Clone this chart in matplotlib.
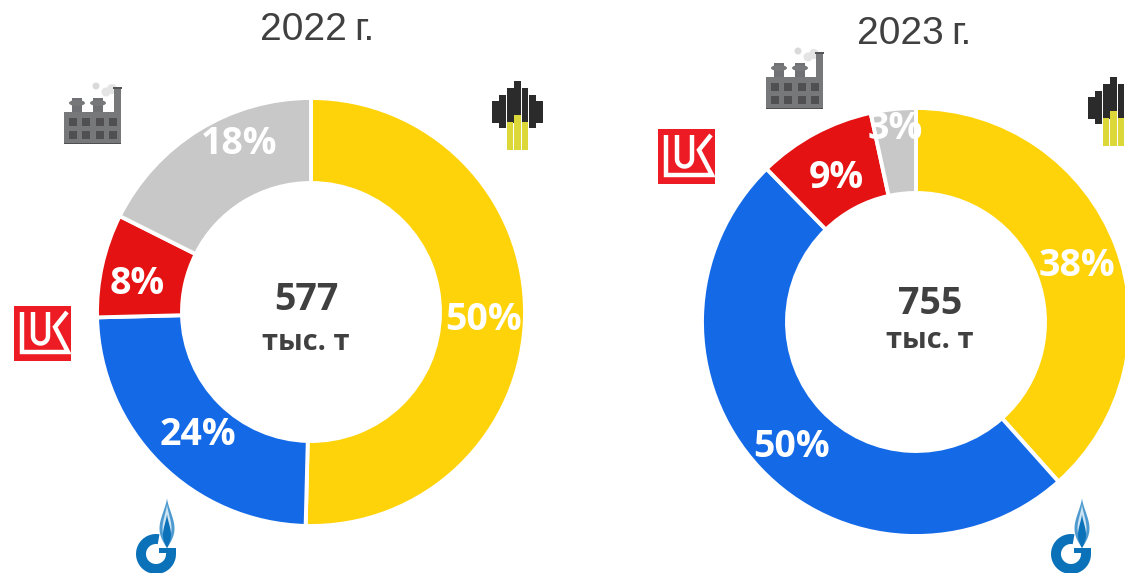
import matplotlib
matplotlib.use('Agg')
import matplotlib.pyplot as plt
from matplotlib.patches import Rectangle, Polygon, Circle, Wedge, Ellipse
import numpy as np

# shares read from the slice boundaries, labels as printed
shares_2022 = [50.4, 24.2, 7.8, 17.6]
shares_2023 = [38.4, 49.3, 8.9, 3.4]
labels_2022 = ['50%', '24%', '8%', '18%']
labels_2023 = ['38%', '50%', '9%', '3%']
colors = ['#FFD30A', '#1369E6', '#E41212', '#C8C8C8']

W, H = 1125, 573
fig = plt.figure(figsize=(W / 100, H / 100), dpi=100)
ax = fig.add_axes([0, 0, 1, 1])


def Y(py):
    return H - py


def donut(cx, cy, shares, labels, label_r, label_deg, total, mid, title, tx, ty):
    wedges, _ = ax.pie(shares, colors=colors, startangle=90, counterclock=False,
                       center=(cx, Y(cy)), radius=214,
                       wedgeprops=dict(width=85, edgecolor='white', linewidth=2.8))
    for w, lab, r, d in zip(wedges, labels, label_r, label_deg):
        a = np.deg2rad((w.theta1 + w.theta2) / 2 - d)
        ax.text(cx + r * np.cos(a), Y(cy + 3) + r * np.sin(a), lab, color='white', fontsize=27,
                fontweight='bold', family='Open Sans', ha='center', va='center')
    ax.text(mid[0], Y(mid[1]), total, color='#404040', fontsize=27, fontweight='bold',
            family='Open Sans', ha='center', va='center')
    ax.text(mid[0], Y(mid[2]), 'тыс. т', color='#404040', fontsize=21, fontweight='bold',
            family='Open Sans', ha='center', va='center')
    ax.text(tx, Y(ty + 3), title, color='#404040', fontsize=28, family='Liberation Sans',
            ha='left', va='center')
    ax.text(tx + 94, Y(ty + 3), 'г.', color='#404040', fontsize=28, family='Liberation Sans',
            ha='left', va='center')


def factory(x, y):
    # x, y = top left of the building
    ax.add_patch(Circle((x + 32, Y(y - 26)), 3.5, color='#DADADA', lw=0))
    ax.add_patch(Circle((x + 48, Y(y - 23)), 5, color='#E4E4E4', lw=0))
    ax.add_patch(Circle((x + 42, Y(y - 20)), 4.5, color='#E4E4E4', lw=0))
    ax.add_patch(Rectangle((x, Y(y + 32)), 57, 32, color='#77787A', lw=0))
    ax.add_patch(Rectangle((x, Y(y + 32)), 57, 1.5, color='#505050', lw=0))
    ax.add_patch(Rectangle((x + 50, Y(y)), 7, 23, color='#77787A', lw=0))
    ax.add_patch(Rectangle((x + 49, Y(y - 23)), 9, 2, color='#55565A', lw=0))
    for sx in (x + 13, x + 34):
        ax.add_patch(Rectangle((sx - 5, Y(y)), 10, 14, color='#707174', lw=0))
        ax.add_patch(Ellipse((sx, Y(y - 9)), 16, 6, color='#77787A', lw=0))
    for row in (6, 19):
        for col in (5, 18, 32, 45):
            ax.add_patch(Rectangle((x + col, Y(y + row + 8)), 7.5, 8, color='#505052', lw=0))


def lukoil(x, y, s=57):
    k = s / 57
    ax.add_patch(Rectangle((x, Y(y + 55 * k)), s, 55 * k, color='#ED1C24', lw=0))
    pts = [(8, 6), (8, 46), (54, 46), (41, 21), (53, 6)]
    ax.plot([x + a * k for a, b in pts], [Y(y + b * k) for a, b in pts], color='white', lw=3.2,
            solid_joinstyle='miter', solid_capstyle='butt')
    t = np.linspace(np.pi, 2 * np.pi, 20)
    ux = np.concatenate([[19], 26.5 + 7.5 * np.cos(t), [34]])
    uy = np.concatenate([[6], 30 - 7.5 * np.sin(t), [6]])
    ax.plot(x + ux * k, [Y(y + b * k) for b in uy], color='white', lw=3.2, solid_capstyle='butt')


def rosneft(x, y):
    # x = left of outer bar, y = top of centre bar
    tops = [20, 14, 7, 0, 7, 14, 20]
    bottoms = [42, 47, 42, 35, 42, 47, 42]
    for i, (t, b) in enumerate(zip(tops, bottoms)):
        ax.add_patch(Rectangle((x + i * 7.4, Y(y + b)), 6.8, b - t, color='#2B2B2B', lw=0))
    for i, t in zip((2, 3, 4), (41, 34, 41)):
        ax.add_patch(Rectangle((x + i * 7.4 + 0.2, Y(y + 69)), 6.4, 69 - t, color='#DDD83A', lw=0))


def flame(x, y, half, h, color):
    t = np.linspace(0, 1, 30)
    w = half * np.sin(np.pi * t ** 1.4)
    px = np.concatenate([x - w, (x + w)[::-1]])
    py = np.concatenate([y + h * t, (y + h * t)[::-1]])
    ax.add_patch(Polygon(np.column_stack([px, Y(py)]), color=color, lw=0))


def gazprom(x, y):
    # x = left of the G, y = top of the flame
    blue = '#0B72B9'
    flame(x + 30, y, 7.5, 50, '#4C9AD0')
    flame(x + 30, y + 6, 4.5, 40, '#CFE4F2')
    flame(x + 30, y + 16, 4, 34, blue)
    ax.add_patch(Wedge((x + 19, Y(y + 56)), 20, 80, 365, width=10, color=blue, lw=0))
    ax.add_patch(Rectangle((x + 22, Y(y + 55)), 17, 5, color=blue, lw=0))


donut(311, 312, shares_2022, labels_2022, [173, 165, 177, 185], [1, -1.7, -2.6, 8.9],
      '577', (306, 300, 342), '2022', 260, 27)
donut(916, 322, shares_2023, labels_2023, [171, 174, 167, 197], [0.8, -1.5, -0.3, 0],
      '755', (930, 304, 341), '2023', 857, 31)

factory(64, 112)
factory(766, 77)
lukoil(14, 306)
lukoil(658, 129)
rosneft(492, 81)
rosneft(1088, 77)
gazprom(137, 498)
gazprom(1052, 498)

ax.set_xlim(0, W)
ax.set_ylim(0, H)
ax.set_aspect('auto')
ax.axis('off')
fig.savefig('out.png', dpi=100, facecolor='white')
